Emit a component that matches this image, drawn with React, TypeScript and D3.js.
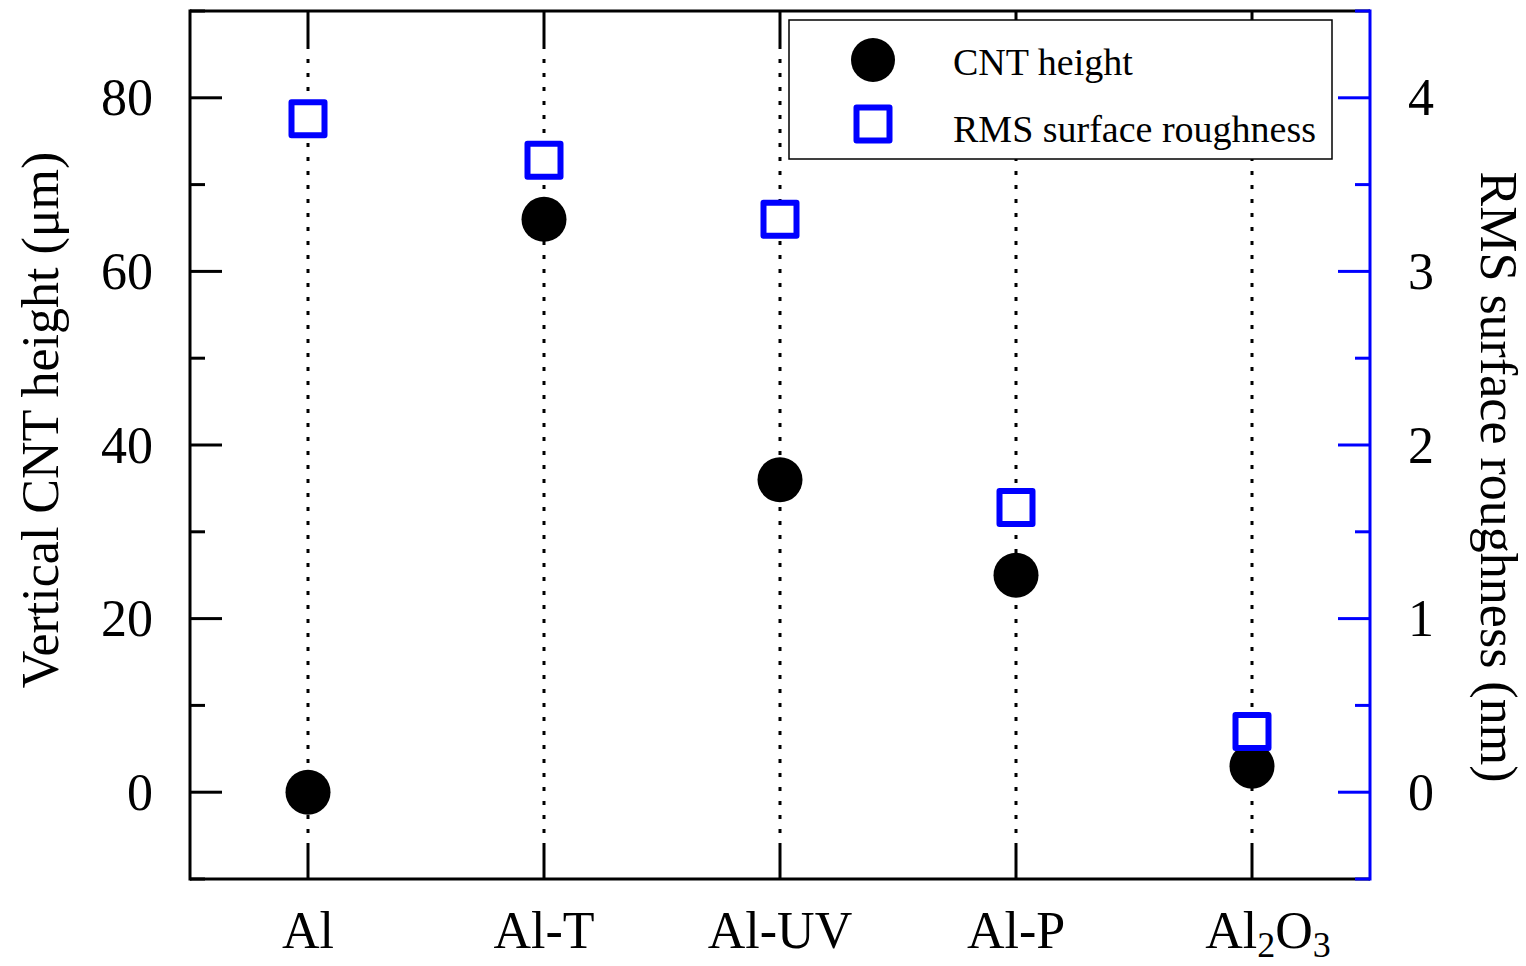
import React from "react";
import * as d3 from "d3";

// Substrate treatments along the x axis
const categories = ["Al", "Al-T", "Al-UV", "Al-P", "Al2O3"];
// Vertical CNT height (µm), left axis
const cntHeight = [0, 66, 36, 25, 3];
// RMS surface roughness (nm), right axis
const rmsRoughness = [3.88, 3.64, 3.3, 1.64, 0.35];
// Tick values
const leftMajorTicks = [0, 20, 40, 60, 80];
const leftMinorTicks = [-10, 10, 30, 50, 70, 90];
const rightMajorTicks = [0, 1, 2, 3, 4];
const rightMinorTicks = [-0.5, 0.5, 1.5, 2.5, 3.5, 4.5];

const W = 1526;
const H = 966;
const M = { left: 190, right: 1370, top: 11, bottom: 879 };
const FONT = "'Liberation Serif', 'Times New Roman', serif";
const BLUE = "#0000ff";

export default function App() {
  const x = d3
    .scalePoint<string>()
    .domain(categories)
    .range([M.left, M.right])
    .padding(0.5);
  const yL = d3.scaleLinear().domain([-10, 90]).range([M.bottom, M.top]);
  const yR = d3.scaleLinear().domain([-0.5, 4.5]).range([M.bottom, M.top]);

  const majorLen = 32;
  const minorLen = 15;
  const vTick = 34;
  const sq = 33;

  const labelFor = (c: string) => {
    if (c === "Al2O3") {
      return (
        <>
          Al
          <tspan fontSize={36} dy={9}>2</tspan>
          <tspan dy={-9}>O</tspan>
          <tspan fontSize={36} dy={9}>3</tspan>
        </>
      );
    }
    return c;
  };

  return (
    <svg
      width={W}
      height={H}
      style={{ position: "fixed", left: 0, top: 0, background: "#fff" }}
      fontFamily={FONT}
    >
      <rect x={0} y={0} width={W} height={H} fill="#fff" />

      {/* Dotted guide lines at each category */}
      {categories.map((c) => (
        <line
          key={"g" + c}
          x1={x(c)}
          x2={x(c)}
          y1={M.top + vTick}
          y2={M.bottom - vTick}
          stroke="#000"
          strokeWidth={3}
          strokeDasharray="4 10"
        />
      ))}

      {/* Category ticks on top and bottom */}
      {categories.map((c) => (
        <g key={"t" + c}>
          <line x1={x(c)} x2={x(c)} y1={M.top} y2={M.top + vTick} stroke="#000" strokeWidth={3} />
          <line x1={x(c)} x2={x(c)} y1={M.bottom} y2={M.bottom - vTick} stroke="#000" strokeWidth={3} />
        </g>
      ))}

      {/* Left axis ticks */}
      {leftMajorTicks.map((t) => (
        <g key={"lm" + t}>
          <line x1={M.left} x2={M.left + majorLen} y1={yL(t)} y2={yL(t)} stroke="#000" strokeWidth={3} />
          <text
            x={M.left - 37}
            y={yL(t)}
            textAnchor="end"
            dominantBaseline="central"
            fontSize={52}
            fill="#000"
          >
            {t}
          </text>
        </g>
      ))}
      {leftMinorTicks.map((t) => (
        <line key={"ln" + t} x1={M.left} x2={M.left + minorLen} y1={yL(t)} y2={yL(t)} stroke="#000" strokeWidth={3} />
      ))}

      {/* Frame: top, bottom, left in black */}
      <line x1={M.left} x2={M.right} y1={M.top} y2={M.top} stroke="#000" strokeWidth={3} />
      <line x1={M.left} x2={M.right} y1={M.bottom} y2={M.bottom} stroke="#000" strokeWidth={3} />
      <line x1={M.left} x2={M.left} y1={M.top - 1.5} y2={M.bottom + 1.5} stroke="#000" strokeWidth={3} />

      {/* Right axis in blue */}
      {rightMajorTicks.map((t) => (
        <g key={"rm" + t}>
          <line x1={M.right - majorLen} x2={M.right} y1={yR(t)} y2={yR(t)} stroke={BLUE} strokeWidth={3} />
          <text
            x={M.right + 38}
            y={yR(t)}
            textAnchor="start"
            dominantBaseline="central"
            fontSize={52}
            fill="#000"
          >
            {t}
          </text>
        </g>
      ))}
      {rightMinorTicks.map((t) => (
        <line key={"rn" + t} x1={M.right - minorLen} x2={M.right} y1={yR(t)} y2={yR(t)} stroke={BLUE} strokeWidth={3} />
      ))}
      <line x1={M.right} x2={M.right} y1={M.top - 1.5} y2={M.bottom + 1.5} stroke={BLUE} strokeWidth={3} />

      {/* CNT height markers */}
      {categories.map((c, i) => (
        <circle key={"c" + c} cx={x(c)} cy={yL(cntHeight[i])} r={22.5} fill="#000" />
      ))}

      {/* RMS roughness markers */}
      {categories.map((c, i) => (
        <rect
          key={"s" + c}
          x={(x(c) as number) - sq / 2}
          y={yR(rmsRoughness[i]) - sq / 2}
          width={sq}
          height={sq}
          fill="#fff"
          stroke={BLUE}
          strokeWidth={6}
          strokeLinejoin="round"
        />
      ))}

      {/* Category labels */}
      {categories.map((c) => (
        <text
          key={"x" + c}
          x={x(c)}
          dx={c === "Al2O3" ? 16 : 0}
          y={948}
          textAnchor="middle"
          fontSize={52}
          fill="#000"
        >
          {labelFor(c)}
        </text>
      ))}

      {/* Axis titles */}
      <text
        transform={`translate(40, ${(M.top + M.bottom) / 2 - 25}) rotate(-90)`}
        textAnchor="middle"
        dominantBaseline="central"
        fontSize={52}
        fill="#000"
      >
        Vertical CNT height (μm)
      </text>
      <text
        transform={`translate(1498, ${(M.top + M.bottom) / 2 + 32}) rotate(90)`}
        textAnchor="middle"
        dominantBaseline="central"
        fontSize={52}
        fill="#000"
      >
        RMS surface roughness (nm)
      </text>

      {/* Legend */}
      <g>
        <rect x={789} y={20} width={543} height={139} fill="#fff" stroke="#000" strokeWidth={1.5} />
        <circle cx={873} cy={60} r={22} fill="#000" />
        <text x={953} y={75} fontSize={38} fill="#000">CNT height</text>
        <rect
          x={873 - sq / 2}
          y={124 - sq / 2}
          width={sq}
          height={sq}
          fill="#fff"
          stroke={BLUE}
          strokeWidth={6}
          strokeLinejoin="round"
        />
        <text x={953} y={142} fontSize={38} fill="#000">RMS surface roughness</text>
      </g>
    </svg>
  );
}
